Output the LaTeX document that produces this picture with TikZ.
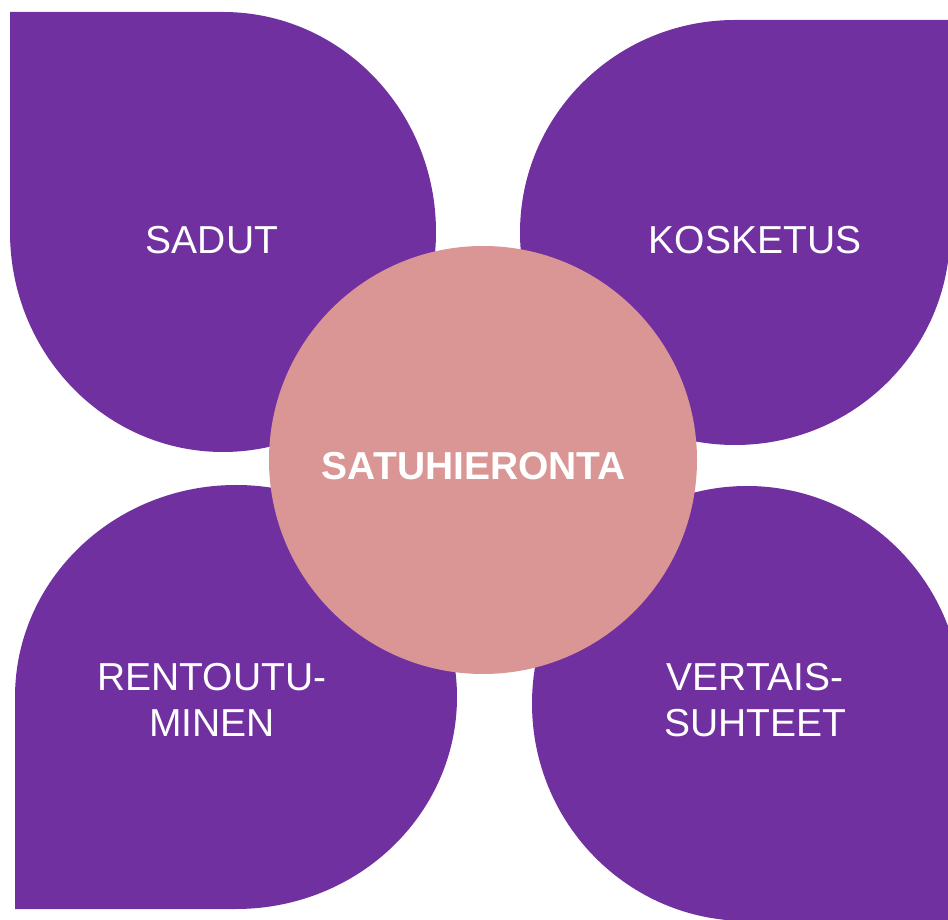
\documentclass[tikz,border=0pt]{standalone}
\usepackage{fontspec}
\setmainfont{Liberation Sans}
\definecolor{petalpurple}{HTML}{7030A0}
\definecolor{centerpink}{HTML}{D99694}
\begin{document}
\begin{tikzpicture}[x=1pt,y=1pt,
  petal/.style={fill=petalpurple,draw=none},
  petaltext/.style={text=white,align=center,inner sep=0pt,font=\fontsize{39}{46}\selectfont},
  hubtext/.style={text=white,inner sep=0pt,font=\fontsize{39}{46}\selectfont\bfseries}]
\useasboundingbox (0,0) rectangle (948,919);
\clip (0,0) rectangle (948,919);
\fill[white] (0,0) rectangle (948,919);
% petals
\path[petal] (10,907) -- (223,907) arc[start angle=90,end angle=-180,x radius=213,y radius=220] -- cycle;
\path[petal] (950,899) -- (950,686.5) arc[start angle=0,end angle=-270,x radius=215,y radius=212.5] -- cycle;
\path[petal] (15,10) -- (15,222) arc[start angle=180,end angle=-90,x radius=221,y radius=212] -- cycle;
\path[petal] (962,-2) -- (747,-2) arc[start angle=270,end angle=0,x radius=215,y radius=217.5] -- cycle;
% hub
\node[circle,fill=centerpink,draw=none,minimum size=428pt,inner sep=0pt] (hub) at (483,459) {};
\node[hubtext] (hublabel) at (474,453) {SATUHIERONTA};
% labels
\node[petaltext] (sadut) at (212,679) {SADUT};
\node[petaltext] (kosketus) at (755,679) {KOSKETUS};
\node[petaltext] (rentoutuminen) at (212,219) {RENTOUTU-\\MINEN};
\node[petaltext] (vertaissuhteet) at (755,219) {VERTAIS-\\SUHTEET};
\end{tikzpicture}
\end{document}
